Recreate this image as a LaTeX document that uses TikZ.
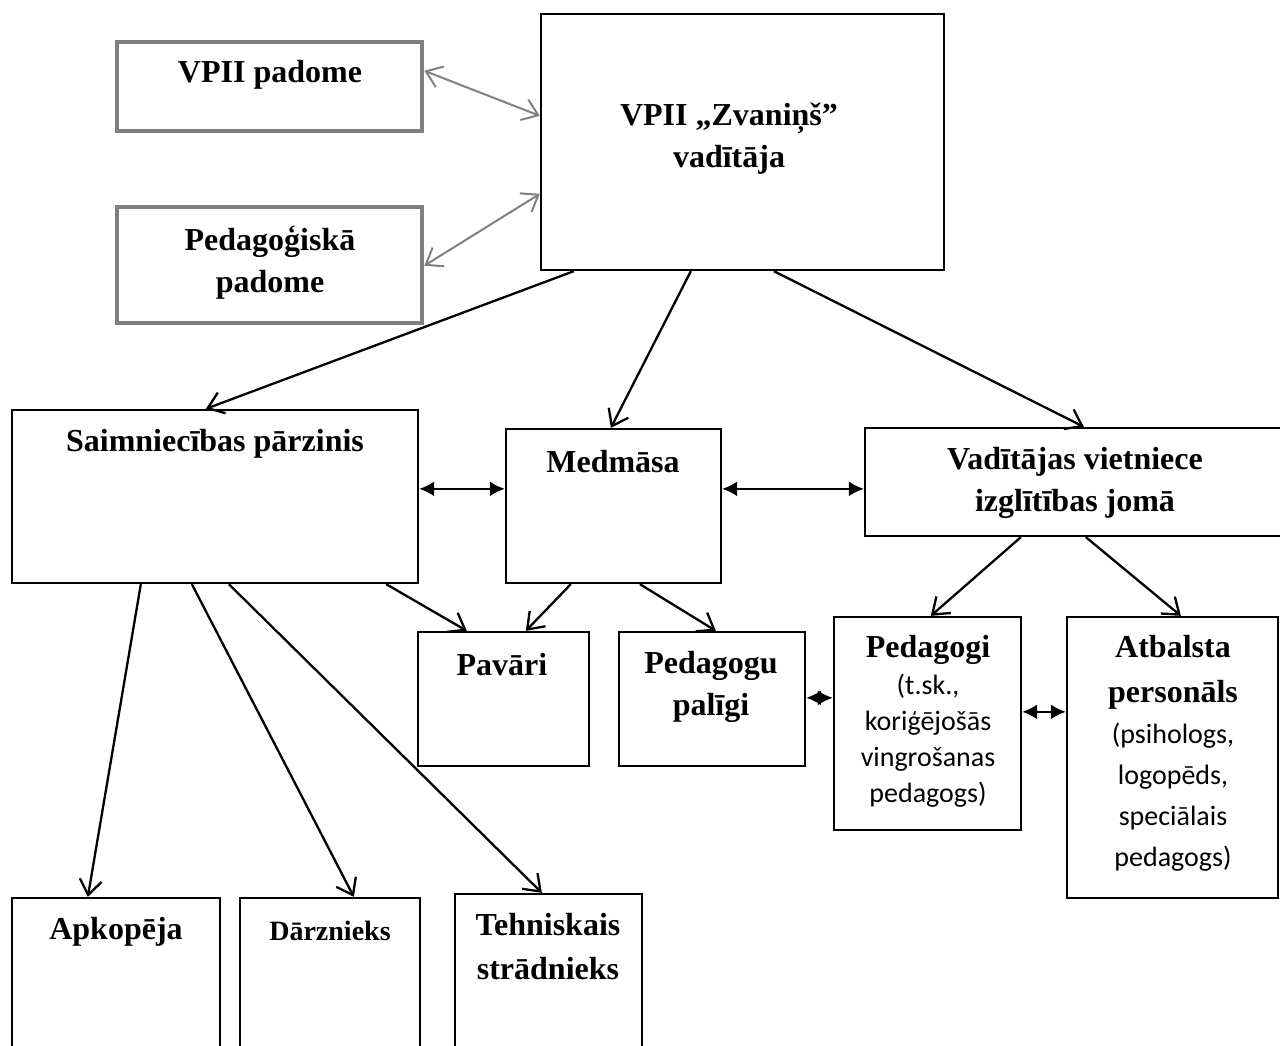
\documentclass[tikz,border=0pt]{standalone}
\usepackage{fontspec}
\setmainfont{Liberation Serif}
\newfontfamily\calibri{Carlito}
\usetikzlibrary{arrows.meta}
\definecolor{councilgray}{RGB}{128, 128, 128}

\begin{document}
\begin{tikzpicture}[x=1pt, y=-1pt,
        box/.style={rectangle, draw, line width=2.3pt, inner sep=0pt},
        council/.style={rectangle, draw=councilgray, line width=4.5pt, inner sep=0pt},
        title/.style={font=\fontsize{32}{42}\selectfont\bfseries, align=center, inner sep=0pt},
        note/.style={font=\calibri\fontsize{28}{36}\selectfont, align=center, inner sep=0pt},
        down/.style={line width=2.3pt, -{Straight Barb[length=15pt, width=22pt]}},
        link/.style={line width=2.3pt, {Latex[length=15pt, width=15pt]}-{Latex[length=15pt, width=15pt]}},
        mutual/.style={councilgray, line width=2pt, {Straight Barb[length=15pt, width=22pt]}-{Straight Barb[length=15pt, width=22pt]}}
    ]
        \useasboundingbox (0,0) rectangle (1280,1046);
        \clip (0,0) rectangle (1280,1046);

        % boxes
        \node[council, minimum width=305pt, minimum height=89pt] (vp) at (269.5, 86.5) {};
        \node[council, minimum width=305pt, minimum height=116pt] (pp) at (269.5, 265) {};
        \node[box, minimum width=403pt, minimum height=256pt] (head) at (742.5, 142) {};
        \node[box, minimum width=406pt, minimum height=173pt] (sp) at (215, 496.5) {};
        \node[box, minimum width=215pt, minimum height=154pt] (med) at (613.5, 506) {};
        \node[box, minimum width=430pt, minimum height=108pt] (vv) at (1080, 482) {};
        \node[box, minimum width=171pt, minimum height=134pt] (pav) at (503.5, 699) {};
        \node[box, minimum width=186pt, minimum height=134pt] (pal) at (712, 699) {};
        \node[box, minimum width=187pt, minimum height=213pt] (ped) at (927.5, 723.5) {};
        \node[box, minimum width=211pt, minimum height=281pt] (atb) at (1172.5, 757.5) {};
        \node[box, minimum width=208pt, minimum height=172pt] (apk) at (116, 984) {};
        \node[box, minimum width=180pt, minimum height=172pt] (dar) at (330, 984) {};
        \node[box, minimum width=187pt, minimum height=176pt] (teh) at (548.5, 982) {};

        % texts
        \node[title] (vp-t) at (270, 75) {VPII padome};
        \node[title] (pp-t) at (270, 263) {Pedagoģiskā\\padome};
        \node[title] (head-t) at (729, 139) {VPII „Zvaniņš”\\vadītāja};
        \node[title] (sp-t) at (215, 444) {Saimniecības pārzinis};
        \node[title] (med-t) at (613, 462) {Medmāsa};
        \node[title] (vv-t) at (1075, 483) {Vadītājas vietniece\\izglītības jomā};
        \node[title] (pav-t) at (502, 665) {Pavāri};
        \node[title] (pal-t) at (711, 687) {Pedagogu\\palīgi};
        \node[title] (ped-t) at (928, 650) {Pedagogi};
        \node[note] (ped-n) at (928, 741) {(t.sk.,\\koriģējošās\\vingrošanas\\pedagogs)};
        \node[title, font=\fontsize{32}{45}\selectfont\bfseries] (atb-t) at (1173, 672) {Atbalsta\\personāls};
        \node[note, font=\calibri\fontsize{28}{41}\selectfont] (atb-n) at (1173, 797) {(psihologs,\\logopēds,\\speciālais\\pedagogs)};
        \node[title] (apk-t) at (116, 932) {Apkopēja};
        \node[title, font=\fontsize{28}{42}\selectfont\bfseries] (dar-t) at (330, 931) {Dārznieks};
        \node[title, font=\fontsize{32}{44}\selectfont\bfseries] (teh-t) at (548, 947) {Tehniskais\\strādnieks};

        % councils
        \draw[mutual] ([yshift=-31pt]vp.north east) -- ([yshift=-103pt]head.north west);
        \draw[mutual] ([yshift=-61pt]pp.north east) -- ([yshift=-181pt]head.north west);

        % from the head
        \draw[down] ([xshift=34pt]head.south west) -- ([xshift=195pt]sp.north west);
        \draw[down] ([xshift=151pt]head.south west) -- ([xshift=106pt]med.north west);
        \draw[down] ([xshift=234pt]head.south west) -- ([xshift=220pt]vv.north west);

        \draw[link] ([yshift=-80pt]sp.north east) -- ([yshift=-61pt]med.north west);
        \draw[link] ([yshift=-61pt]med.north east) -- ([yshift=-62pt]vv.north west);

        \draw[down] ([xshift=-33pt]sp.south east) -- ([xshift=50pt]pav.north west);
        \draw[down] ([xshift=130pt]sp.south west) -- ([xshift=77pt]apk.north west);
        \draw[down] ([xshift=181pt]sp.south west) -- ([xshift=115pt]dar.north west);
        \draw[down] ([xshift=218pt]sp.south west) -- ([xshift=88pt]teh.north west);

        \draw[down] ([xshift=66pt]med.south west) -- ([xshift=109pt]pav.north west);
        \draw[down] ([xshift=135pt]med.south west) -- ([xshift=98pt]pal.north west);

        \draw[down] ([xshift=157pt]vv.south west) -- ([xshift=98pt]ped.north west);
        \draw[down] ([xshift=222pt]vv.south west) -- ([xshift=115pt]atb.north west);

        \draw[link] ([yshift=-67pt]pal.north east) -- ([yshift=-82pt]ped.north west);
        \draw[link] ([yshift=-96pt]ped.north east) -- ([yshift=-96pt]atb.north west);
    \end{tikzpicture}
\end{document}
